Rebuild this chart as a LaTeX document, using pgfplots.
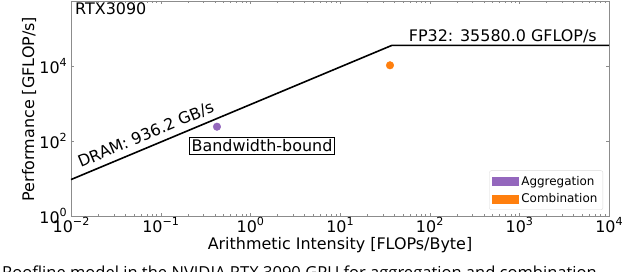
\documentclass[border=0pt]{standalone}
\usepackage{fontspec}
\setmainfont{DejaVu Sans}
\newfontfamily\capfont{Open Sans}
\usepackage{pgfplots}
\pgfplotsset{compat=1.18}
\definecolor{aggc}{HTML}{9467BD}
\definecolor{combc}{HTML}{FF7F0E}
\newcommand\tp[1]{10\raisebox{0.42em}{\fontsize{11.2}{12}\selectfont #1}}
\begin{document}
\begin{tikzpicture}[font=\fontsize{16}{19}\selectfont]
\begin{axis}[
 at={(71bp,56bp)}, anchor=south west,
 scale only axis, width=538bp, height=215bp,
 xmode=log, ymode=log,
 xmin=1e-2, xmax=1e4, ymin=1, ymax=5.41e5,
 xtick={1e-2,1e-1,1,10,100,1000,10000},
 xticklabels={\tp{−2},\tp{−1},\tp{0},\tp{1},\tp{2},\tp{3},\tp{4}},
 minor xtick={0.02,0.03,0.04,0.05,0.06,0.07,0.08,0.09,0.2,0.3,0.4,0.5,0.6,0.7,0.8,0.9,2,3,4,5,6,7,8,9,20,30,40,50,60,70,80,90,200,300,400,500,600,700,800,900,2000,3000,4000,5000,6000,7000,8000,9000},
 ytick={1,100,10000},
 yticklabels={\tp{0},\tp{2},\tp{4}},
 minor y tick style={draw=none},
 axis line style={black!45, line width=0.8bp},
 tick style={black!45},
 major tick length=3bp, minor tick length=2bp,
 tick align=inside,
 xticklabel style={font=\fontsize{16}{19}\selectfont, inner sep=0pt, anchor=north, yshift=-1.5bp},
 yticklabel style={font=\fontsize{16}{19}\selectfont, inner sep=0pt, anchor=east, xshift=-4bp},
 legend style={at={(0.989,0.028)}, anchor=south east, draw=black!15, rounded corners=2bp, fill=white,
   font=\fontsize{12}{14}\selectfont, inner sep=3bp, row sep=2bp, nodes={inner sep=2.5bp}},
 legend cell align=left,
]
\addplot[black, line width=1.6bp, forget plot] coordinates {(0.01,9.362) (38.005,35580) (10000,35580)};
\addplot[only marks, mark=*, mark size=3.8bp, color=aggc, forget plot] coordinates {(0.4246,240.5)};
\addplot[only marks, mark=*, mark size=3.8bp, color=combc, forget plot] coordinates {(36.1,10440)};
\addlegendimage{legend image code/.code={\fill[aggc, sharp corners] (0bp,-4bp) rectangle (26bp,4bp);}}
\addlegendentry{Aggregation}
\addlegendimage{legend image code/.code={\fill[combc, sharp corners] (0bp,-4bp) rectangle (26bp,4bp);}}
\addlegendentry{Combination}
\node[anchor=base west, inner sep=0] at (rel axis cs:0.0074,0.935) {RTX3090};
\node[anchor=base east, inner sep=0] at (axis cs:7345,46400) {FP32: 35580.0 GFLOP/s};
\node[anchor=base, rotate=22.69, inner sep=0] at (axis cs:0.0722,108.3) {DRAM: 936.2 GB/s};
\node[draw=black, line width=0.8bp, inner sep=2bp, fill=white] at (axis cs:1.349,73.6) {Bandwidth-bound};
\end{axis}
\node[anchor=base, inner sep=0] at (340bp,22.5bp) {Arithmetic Intensity [FLOPs/Byte]};
\node[anchor=base, rotate=90, inner sep=0] at (34bp,163bp) {Performance [GFLOP/s]};
\node[anchor=base west, inner sep=0, font=\capfont\fontsize{16.6}{19}\selectfont] at (2bp,-6.8bp) {Roofline model in the NVIDIA RTX 3090 GPU for aggregation and combination};
\pgfresetboundingbox
\path[use as bounding box] (0,0) rectangle (640bp,272bp);
\end{tikzpicture}
\end{document}
